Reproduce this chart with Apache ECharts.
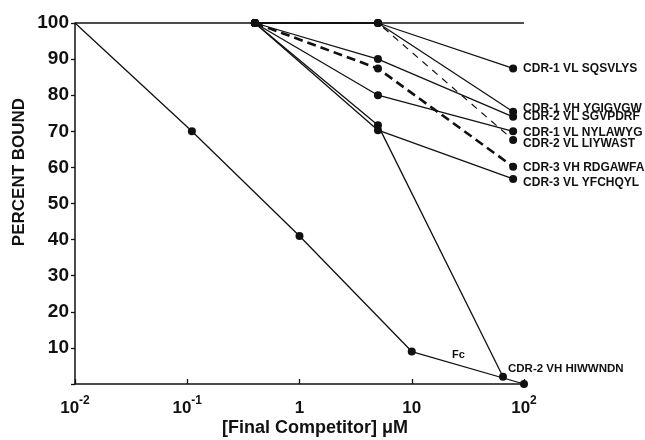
<!DOCTYPE html>
<html style="height: 100%">
<head>
  <meta charset="utf-8">
</head>
<body style="height: 100%; margin: 0; background: #fff">
  <div id="container" style="width: 645px; height: 440px"></div>
  <script type="text/javascript" src="https://cdn.jsdelivr.net/npm/echarts@6/dist/echarts.min.js"></script>
  <script type="text/javascript">
    // competitor concentrations (uM)
    var concX = [0.4, 5, 80];
    var sqsvlys = [100, 100, 87.4];
    var ygigvgw = [100, 100, 75.4];
    var sgvpdrf = [100, 90, 74];
    var nylawyg = [100, 80, 70];
    var liywast = [100, 100, 67.6];
    var rdgawfa = [100, 87.4, 60.2];
    var yfchqyl = [100, 70.3, 56.8];

    var hiwX = [0.4, 5, 65];
    var hiwY = [100, 71.7, 2];

    var fcX = [0.01, 0.11, 1, 10, 100];
    var fcY = [100, 70, 41, 9, 0];

    var refX = [0.01, 100];
    var refY = [100, 100];

    var yTicks = [10, 20, 30, 40, 50, 60, 70, 80, 90, 100];

    var FONT = '"Liberation Sans", Arial, sans-serif';
    var INK = '#111';

    function pairs(xs, ys) {
      return xs.map(function (x, i) { return [x, ys[i]]; });
    }

    function cdrSeries(name, ys, dy, style) {
      var data = pairs(concX, ys);
      var last = data.length - 1;
      data[last] = {
        value: data[last],
        label: {
          show: true, position: 'right', distance: 6, offset: [0, dy],
          formatter: name, color: INK, fontFamily: FONT, fontWeight: 'bold', fontSize: 12
        }
      };
      return {
        type: 'line', name: name, data: data, clip: false,
        symbol: 'circle', symbolSize: 8,
        itemStyle: { color: INK },
        lineStyle: Object.assign({ color: INK, width: 1.3 }, style || {}),
        z: 3
      };
    }

    var fcData = pairs(fcX, fcY);
    fcData[0] = { value: fcData[0], symbolSize: 0 };

    var hiwData = pairs(hiwX, hiwY);
    hiwData[2] = {
      value: hiwData[2],
      label: {
        show: true, position: [9, -10], formatter: 'CDR-2 VH HIWWNDN',
        color: INK, fontFamily: FONT, fontWeight: 'bold', fontSize: 11.5
      }
    };

    var dom = document.getElementById('container');
    var myChart = echarts.init(dom);
    var option = {
      animation: false,
      backgroundColor: '#fff',
      grid: { left: 75, right: 121, top: 23, bottom: 56 },
      xAxis: {
        type: 'log', logBase: 10, min: 0.01, max: 100,
        axisLine: { lineStyle: { color: INK, width: 1.5 } },
        axisTick: { inside: true, length: 5, lineStyle: { color: INK, width: 1.3 } },
        splitLine: { show: false },
        axisLabel: {
          margin: 11, color: INK,
          formatter: function (v) {
            var e = Math.round(Math.log10(v));
            if (e === 0) return '{b|1}';
            if (e === 1) return '{b|10}';
            return '{b|10}{s|' + e + '}';
          },
          rich: {
            b: { fontFamily: FONT, fontWeight: 'bold', fontSize: 17, lineHeight: 22, verticalAlign: 'bottom', color: INK },
            s: { fontFamily: FONT, fontWeight: 'bold', fontSize: 12, lineHeight: 12, verticalAlign: 'top', color: INK }
          }
        }
      },
      yAxis: {
        type: 'value', min: 0, max: 100, interval: 10,
        axisLine: { show: true, lineStyle: { color: INK, width: 1.5 } },
        axisTick: { show: true, length: 4, lineStyle: { color: INK, width: 1.3 } },
        splitLine: { show: false },
        axisLabel: {
          margin: 6, color: INK, fontFamily: FONT, fontWeight: 'bold', fontSize: 19,
          formatter: function (v) { return yTicks.indexOf(v) >= 0 ? String(v) : ''; }
        }
      },
      graphic: [
        {
          type: 'text', x: 19, y: 172, rotation: Math.PI / 2,
          style: {
            text: 'PERCENT BOUND', fill: INK, font: 'bold 17px ' + FONT,
            textAlign: 'center', textVerticalAlign: 'middle'
          }
        },
        {
          type: 'text', x: 315, y: 428,
          style: {
            text: '[Final Competitor] \u03bcM', fill: INK, font: 'bold 18px ' + FONT,
            textAlign: 'center', textVerticalAlign: 'middle'
          }
        }
      ],
      series: [
        {
          type: 'line', name: 'ref', data: pairs(refX, refY), clip: false,
          symbol: 'none', lineStyle: { color: INK, width: 1.3 }, z: 2
        },
        {
          type: 'line', name: 'Fc', data: fcData, clip: false,
          symbol: 'circle', symbolSize: 8,
          itemStyle: { color: INK },
          lineStyle: { color: INK, width: 1.3 },
          markPoint: {
            symbol: 'circle', symbolSize: 1,
            itemStyle: { color: 'rgba(0,0,0,0)' },
            label: { show: true, position: 'inside', formatter: 'Fc', color: INK, fontFamily: FONT, fontWeight: 'bold', fontSize: 11 },
            data: [{ coord: [26, 8] }]
          },
          z: 3
        },
        {
          type: 'line', name: 'CDR-2 VH HIWWNDN', data: hiwData, clip: false,
          symbol: 'circle', symbolSize: 8,
          itemStyle: { color: INK },
          lineStyle: { color: INK, width: 1.3 },
          z: 3
        },
        cdrSeries('CDR-1 VL SQSVLYS', sqsvlys, 0),
        cdrSeries('CDR-1 VH YGIGVGW', ygigvgw, -3),
        cdrSeries('CDR-2 VL SGVPDRF', sgvpdrf, 0),
        cdrSeries('CDR-1 VL NYLAWYG', nylawyg, 1),
        cdrSeries('CDR-2 VL LIYWAST', liywast, 4, { type: [7, 6], width: 1.2 }),
        cdrSeries('CDR-3 VH RDGAWFA', rdgawfa, 1, { type: [9, 5], width: 2.6 }),
        cdrSeries('CDR-3 VL YFCHQYL', yfchqyl, 4)
      ]
    };
    myChart.setOption(option);
    window.onresize = myChart.resize;
  </script>
</body>
</html>
